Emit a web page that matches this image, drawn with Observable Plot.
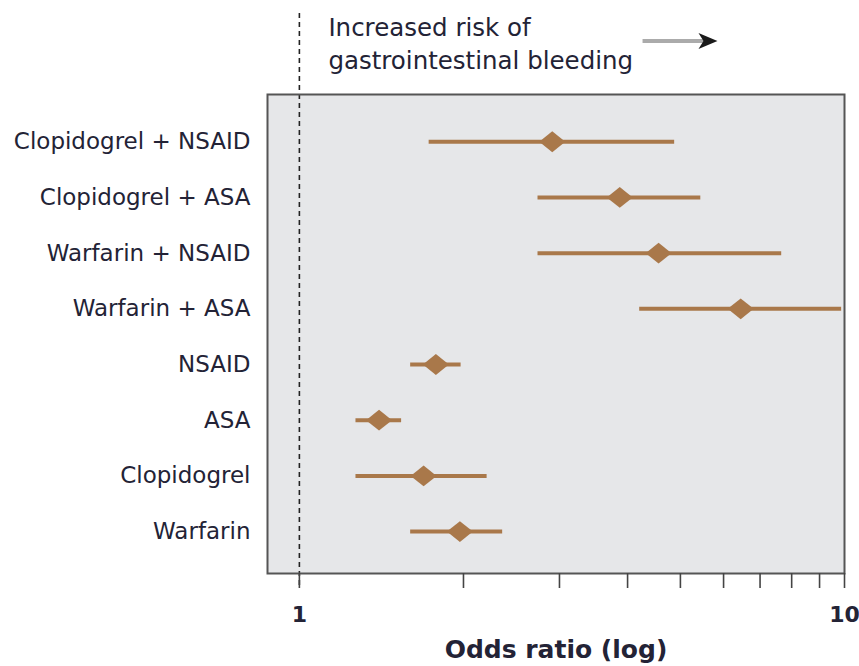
<!DOCTYPE html>
<html>
<head>
<meta charset="utf-8">
<script src="https://cdn.jsdelivr.net/npm/d3@7"></script>
<script src="https://cdn.jsdelivr.net/npm/@observablehq/plot@0.6"></script>
<style>
  html, body { margin: 0; padding: 0; background: #fff; }
</style>
</head>
<body>
<div id="chart"></div>
<script>
// Drug or drug combination, top to bottom
const treatments = [
  "Clopidogrel + NSAID",
  "Clopidogrel + ASA",
  "Warfarin + NSAID",
  "Warfarin + ASA",
  "NSAID",
  "ASA",
  "Clopidogrel",
  "Warfarin"
];
// Odds ratio of gastrointestinal bleeding with 95% confidence bounds
const oddsRatio = [2.91, 3.87, 4.56, 6.45, 1.78, 1.40, 1.69, 1.97];
const lowerCI   = [1.73, 2.74, 2.74, 4.21, 1.60, 1.27, 1.27, 1.60];
const upperCI   = [4.88, 5.45, 7.67, 9.88, 1.98, 1.54, 2.21, 2.36];

// Axis ticks (log scale), only the decades are labelled
const xTicks = [1, 2, 3, 4, 5, 6, 7, 8, 9, 10];
const xTickLabels = [1, 10];
const xDomain = [0.874, 10];

// Annotation above the panel
const noteText = "Increased risk of\ngastrointestinal bleeding";
const noteArrow = [4.27, 5.86];
const axisTitle = "Odds ratio (log)";

const rows = treatments.map((name, i) => ({
  name, or: oddsRatio[i], lo: lowerCI[i], hi: upperCI[i]
}));

const brown = "#a9784a";
const ink = "#232336";

// A diamond that is wider than it is tall
const wideDiamond = {
  draw(context, size) {
    const r = Math.sqrt(size / Math.PI);
    const a = r, b = r * 0.8;
    context.moveTo(-a, 0);
    context.lineTo(0, -b);
    context.lineTo(a, 0);
    context.lineTo(0, b);
    context.closePath();
  }
};

// Arrow pointing toward higher risk, positioned with the x scale
function riskArrow(index, scales, values, dimensions) {
  const g = d3.create("svg:g");
  const x1 = scales.x(noteArrow[0]);
  const x2 = scales.x(noteArrow[1]);
  const y = dimensions.marginTop - 53;
  g.append("line")
    .attr("x1", x1).attr("x2", x2 - 12)
    .attr("y1", y).attr("y2", y)
    .attr("stroke", "#ababab").attr("stroke-width", 4);
  g.append("path")
    .attr("d", `M${x2},${y} L${x2 - 19},${y - 8} L${x2 - 14},${y} L${x2 - 19},${y + 8} Z`)
    .attr("fill", "#1a1a1a");
  return g.node();
}

const chart = Plot.plot({
  width: 859,
  height: 666,
  marginLeft: 267,
  marginRight: 15,
  marginTop: 94,
  marginBottom: 93,
  style: { fontFamily: "DejaVu Sans", color: ink, background: "#fff", overflow: "visible" },
  x: { type: "log", domain: xDomain },
  y: { type: "point", domain: treatments, padding: 0.8, align: 0.53, round: false },
  marks: [
    Plot.frame({ fill: "#e6e7e9", stroke: null }),
    Plot.ruleX([1], {
      stroke: "#222", strokeWidth: 1.6, strokeDasharray: "5,4",
      insetTop: -81, insetBottom: -16
    }),
    Plot.ruleY(rows, { y: "name", x1: "lo", x2: "hi", stroke: brown, strokeWidth: 4 }),
    Plot.dot(rows, { x: "or", y: "name", r: 13, symbol: wideDiamond, fill: brown, stroke: null }),
    Plot.frame({ stroke: "#555", strokeWidth: 2 }),
    Plot.axisY({ tickSize: 0, tickPadding: 17, fontSize: 23, label: null }),
    Plot.axisX({
      ticks: xTicks,
      tickSize: 15,
      tickPadding: 18,
      stroke: "#444",
      strokeWidth: 1.6,
      fontSize: 22,
      fontWeight: "bold",
      tickFormat: d => xTickLabels.includes(d) ? String(d) : "",
      label: null
    }),
    Plot.text([axisTitle], {
      frameAnchor: "bottom", dy: 84, fontSize: 25, fontWeight: "bold", fill: ink
    }),
    Plot.text([noteText], {
      x: () => 1, frameAnchor: "top", dx: 29, dy: -53,
      textAnchor: "start", lineAnchor: "middle", lineHeight: 1.36,
      fontSize: 24.5, fill: ink
    }),
    riskArrow
  ]
});

document.getElementById("chart").appendChild(chart);
</script>
</body>
</html>
